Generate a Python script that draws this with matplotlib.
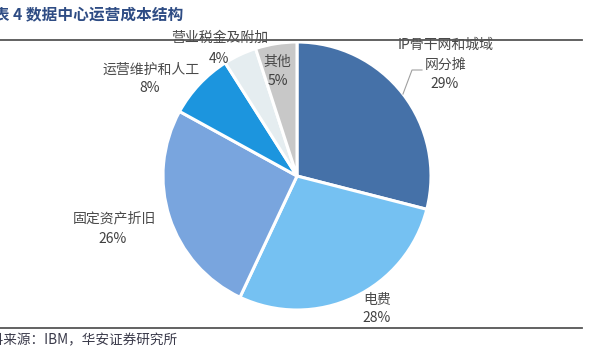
import matplotlib
matplotlib.use("Agg")
import matplotlib.pyplot as plt
from matplotlib.lines import Line2D

plt.rcParams['font.family'] = ['Noto Sans CJK SC', 'DejaVu Sans']

categories = ["IP骨干网和城域\n网分摊", "电费", "固定资产折旧", "运营维护和人工", "营业税金及附加", "其他"]
values = [29, 28, 26, 8, 4, 5]
pct_labels = ["29%", "28%", "26%", "8%", "4%", "5%"]
colors = ["#4571A8", "#75C1F2", "#79A5DE", "#1C95DE", "#E5EDF0", "#C8C8C8"]

W, H = 597, 357
fig = plt.figure(figsize=(W / 100, H / 100), dpi=100)

def px(x, y):
    return x / W, 1 - y / H

# pie axes: center (297,176), radius 134
cx, cy, r = 297, 176, 134
ax = fig.add_axes([(cx - r) / W, (H - cy - r) / H, 2 * r / W, 2 * r / H])
ax.pie(values, colors=colors, startangle=90, counterclock=False, radius=1,
       wedgeprops=dict(edgecolor="white", linewidth=2.2))
ax.set_xlim(-1, 1)
ax.set_ylim(-1, 1)
ax.set_aspect("equal")
ax.axis("off")

def d(pxx, pyy):
    return (pxx - cx) / r, (cy - pyy) / r

# label positions (pixel coords of name center, pct center)
label_pos = [
    ((446, 45), (445, 84)),
    ((377, 300), (377, 318)),
    ((114, 218), (113, 239)),
    ((151, 70), (150, 88)),
    ((220, 38), (219, 59)),
    ((277, 62), (278, 81)),
]
txt_col = "#4A4A4A"
name_fs = 10.0
for i, (cat, pl) in enumerate(zip(categories, pct_labels)):
    (nx, ny), (qx, qy) = label_pos[i]
    if i == 0:
        lines = cat.split("\n")
        ax.text(*d(nx, ny), lines[0], ha="center", va="center", fontsize=name_fs,
                color=txt_col, clip_on=False)
        ax.text(*d(446, 65), lines[1], ha="center", va="center", fontsize=name_fs,
                color=txt_col, clip_on=False)
    else:
        ax.text(*d(nx, ny), cat, ha="center", va="center", fontsize=name_fs,
                color=txt_col, clip_on=False)
    ax.text(*d(qx, qy), pl, ha="center", va="center", fontsize=10,
            color="#404040", clip_on=False)

# leader line for IP slice
p0, p1, p2 = d(403, 94), d(412, 70), d(422, 70)
ax.plot([p0[0], p1[0], p2[0]], [p0[1], p1[1], p2[1]], color="#A0A0A0",
        lw=0.8, clip_on=False)

# title
fig.text(*px(-22, 14), "图表 4 数据中心运营成本结构", ha="left", va="center",
         fontsize=11.3, fontweight="bold", color="#2E4C84")
fig.add_artist(Line2D([0, 582 / W], [1 - 40 / H] * 2, color="#555555", lw=1.3))
fig.add_artist(Line2D([0, 582 / W], [1 - 328 / H] * 2, color="#555555", lw=1.3))

# source
fig.text(*px(-24, 340), "资料来源：IBM，华安证券研究所", ha="left", va="center",
         fontsize=9.8, color="#3A3A4A")

fig.savefig("out.png", dpi=100)
